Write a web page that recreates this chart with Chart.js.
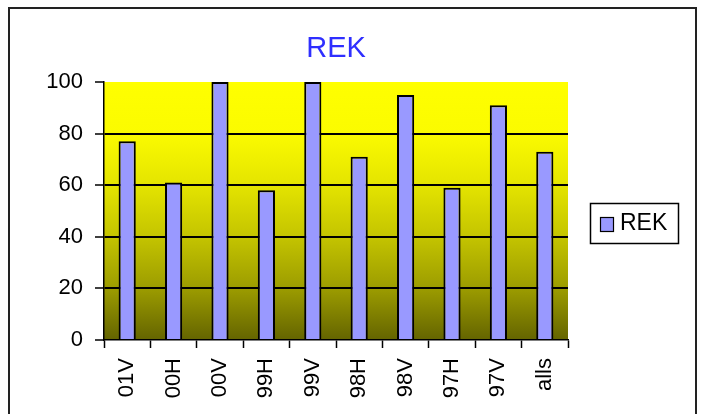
<!DOCTYPE html>
<html>
<head>
<meta charset="utf-8">
<style>
  html, body { margin: 0; padding: 0; background: #fff; }
  #wrap { width: 705px; height: 414px; position: relative; }
</style>
<script src="https://cdn.jsdelivr.net/npm/chart.js@4/dist/chart.umd.min.js"></script>
</head>
<body>
<div id="wrap"><canvas id="c" width="705" height="414"></canvas></div>
<script>
const categories = ["01V", "00H", "00V", "99H", "99V", "98H", "98V", "97H", "97V", "alls"];
const rekValues = [77, 61, 100, 58, 100, 71, 95, 59, 91, 73];
const seriesLabel = "REK";
const chartTitle = "REK";
const yTicks = [0, 20, 40, 60, 80, 100];

const FONT = "'Liberation Sans', Arial, sans-serif";

const decorPlugin = {
  id: 'decor',
  beforeDraw(chart) {
    const { ctx, chartArea: a } = chart;
    ctx.save();
    ctx.fillStyle = '#ffffff';
    ctx.fillRect(0, 0, chart.width, chart.height);
    const g = ctx.createLinearGradient(0, a.top, 0, a.bottom);
    g.addColorStop(0, '#ffff00');
    g.addColorStop(0.2, '#fbfb00');
    g.addColorStop(0.4, '#e4e400');
    g.addColorStop(0.6, '#c4c400');
    g.addColorStop(0.8, '#9c9c00');
    g.addColorStop(1, '#646400');
    ctx.fillStyle = g;
    ctx.fillRect(a.left, a.top, a.right - a.left, a.bottom - a.top);
    ctx.restore();
  },
  afterDraw(chart) {
    const { ctx, chartArea: a } = chart;
    ctx.save();
    // outer frame
    ctx.strokeStyle = '#222';
    ctx.lineWidth = 2;
    ctx.strokeRect(9, 8, 687, 430);
    // title
    ctx.fillStyle = '#2f2fff';
    ctx.font = '29px ' + FONT;
    ctx.textAlign = 'center';
    ctx.textBaseline = 'middle';
    ctx.fillText(chartTitle, (a.left + a.right) / 2, 49);
    // legend
    const ds = chart.data.datasets[0];
    ctx.strokeStyle = '#000';
    ctx.lineWidth = 1.5;
    ctx.strokeRect(590.5, 203.5, 88, 40);
    ctx.fillStyle = ds.backgroundColor;
    ctx.fillRect(600, 217, 14, 15);
    ctx.lineWidth = 1.2;
    ctx.strokeRect(600.5, 217.5, 13, 14);
    ctx.fillStyle = '#000';
    ctx.font = '23px ' + FONT;
    ctx.textAlign = 'left';
    ctx.textBaseline = 'middle';
    ctx.fillText(ds.label, 620, 224);
    ctx.restore();
  }
};

new Chart(document.getElementById('c'), {
  type: 'bar',
  data: {
    labels: categories,
    datasets: [{
      label: seriesLabel,
      data: rekValues,
      backgroundColor: '#9999ff',
      borderColor: '#000000',
      borderWidth: 2,
      categoryPercentage: 1,
      barPercentage: 0.37
    }]
  },
  options: {
    responsive: false,
    animation: false,
    devicePixelRatio: 1,
    layout: { padding: { left: 0, top: 82, right: 137, bottom: 0 } },
    plugins: {
      legend: { display: false },
      title: { display: false },
      tooltip: { enabled: false }
    },
    scales: {
      x: {
        afterFit(s) { s.height = 74; },
        grid: {
          offset: true,
          drawOnChartArea: false,
          drawTicks: true,
          tickLength: 8,
          tickColor: '#000',
          tickWidth: 1.5
        },
        border: { display: true, color: '#000', width: 1.5 },
        ticks: {
          autoSkip: false,
          minRotation: 90,
          maxRotation: 90,
          padding: 10,
          color: '#000',
          font: { family: FONT, size: 22 }
        }
      },
      y: {
        min: 0,
        max: 100,
        afterFit(s) { s.width = 104; },
        afterBuildTicks(s) { s.ticks = yTicks.map(v => ({ value: v })); },
        grid: {
          color: (c) => (c.tick && (c.tick.value === 100 || c.tick.value === 0)) ? 'rgba(0,0,0,0)' : '#000',
          lineWidth: 2,
          drawTicks: true,
          tickLength: 9,
          tickColor: '#000',
          tickWidth: 1.5
        },
        border: { display: true, color: '#000', width: 1.5 },
        ticks: {
          padding: 12,
          color: '#000',
          font: { family: FONT, size: 22 }
        }
      }
    }
  },
  plugins: [decorPlugin]
});
</script>
</body>
</html>
